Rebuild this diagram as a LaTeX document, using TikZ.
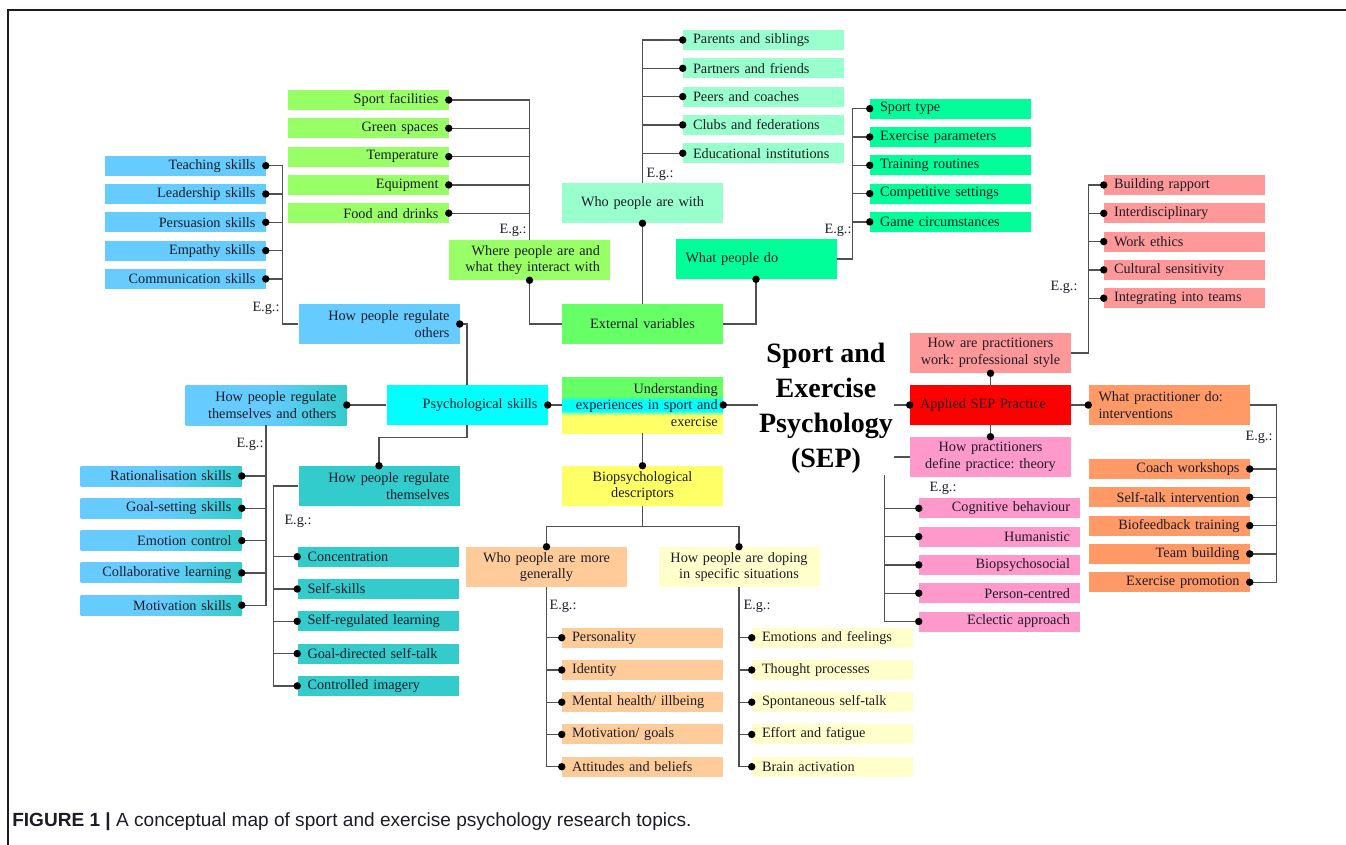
\documentclass[tikz,border=0pt]{standalone}
\usepackage{fontspec}
\setmainfont{Liberation Serif}
\newfontfamily\capfont{Liberation Sans}
\usetikzlibrary{arrows.meta}
\definecolor{ink}{RGB}{28,28,40}
\definecolor{wire}{RGB}{80,80,80}
\definecolor{lgreen}{HTML}{99FF66}
\definecolor{mgreen}{HTML}{66FF66}
\definecolor{mint}{HTML}{99FFCC}
\definecolor{spring}{HTML}{00FF99}
\definecolor{rose}{HTML}{FF9999}
\definecolor{sepred}{HTML}{FF0000}
\definecolor{salmon}{HTML}{FF9966}
\definecolor{orchid}{HTML}{FF99CC}
\definecolor{sky}{HTML}{66CCFF}
\definecolor{aqua}{HTML}{00FFFF}
\definecolor{tealc}{HTML}{33CCCC}
\definecolor{lemon}{HTML}{FFFF66}
\definecolor{peach}{HTML}{FFCC99}
\definecolor{cream}{HTML}{FFFFCC}
\pgfdeclareverticalshading{undshade}{100bp}{color(0bp)=(lemon); color(41bp)=(lemon);
  color(45bp)=(aqua); color(54bp)=(aqua); color(58bp)=(mgreen); color(100bp)=(mgreen)}
\tikzset{
    every node/.style={text=ink, font=\frenchspacing\fontsize{10.7}{12.5}\selectfont},
    item/.style={minimum height=15pt, text width=105.75pt, inner xsep=7.5pt,
        inner ysep=0pt},
    itemr/.style={item, align=right},
    iteml/.style={item, align=left},
    headr/.style={itemr, minimum height=30pt},
    headl/.style={iteml, minimum height=30pt},
    headc/.style={item, align=center, minimum height=30pt, text width=112.75pt,
        inner xsep=4pt},
    blend/.style={left color=sky, right color=tealc, middle color=sky},
    eg/.style={inner sep=0pt},
    link/.style={draw=wire, line width=1pt},
    dotend/.style={link, -{Circle[length=5.5pt, color=black]}, shorten >=-2.75pt},
    dotstart/.style={link, {Circle[length=5.5pt, color=black]}-, shorten <=-2.75pt},
    dotboth/.style={link, {Circle[length=5.5pt, color=black]}-{Circle[length=5.5pt, color=black]},
        shorten <=-2.75pt, shorten >=-2.75pt}
}

\begin{document}
\begin{tikzpicture}[x=0.75pt, y=-0.75pt]
	\useasboundingbox (0,0) rectangle (1346,845);
	\draw[ink, line width=1.1pt] (8,845) -- (8,10) -- (1346,10);
	% external variables
	\node[itemr, fill=lgreen] (facil) at (368,100) {Sport facilities};
	\node[itemr, fill=lgreen] (green) at (368,128.3) {Green spaces};
	\node[itemr, fill=lgreen] (temp) at (368,156.6) {Temperature};
	\node[itemr, fill=lgreen] (equip) at (368,184.9) {Equipment};
	\node[itemr, fill=lgreen] (food) at (368,213.2) {Food and drinks};
	\node[headr, fill=lgreen] (where) at (529.5,260) {Where people are and\\what they interact with};
	\node[iteml, fill=mint] (parents) at (763.5,40) {Parents and siblings};
	\node[iteml, fill=mint] (partners) at (763.5,68.3) {Partners and friends};
	\node[iteml, fill=mint] (peers) at (763.5,96.6) {Peers and coaches};
	\node[iteml, fill=mint] (clubs) at (763.5,124.9) {Clubs and federations};
	\node[iteml, fill=mint] (edu) at (763.5,153.2) {Educational institutions};
	\node[headc, fill=mint] (with) at (642.5,203) {Who people are with};
	\node[headc, fill=mgreen] (ext) at (642.5,324) {External variables};
	\node[headl, fill=spring] (do) at (756,259) {What people do};
	\node[iteml, fill=spring] (stype) at (950.5,108.7) {Sport type};
	\node[iteml, fill=spring] (expar) at (950.5,137) {Exercise parameters};
	\node[iteml, fill=spring] (train) at (950.5,165.3) {Training routines};
	\node[iteml, fill=spring] (comp) at (950.5,193.6) {Competitive settings};
	\node[iteml, fill=spring] (game) at (950.5,221.9) {Game circumstances};
	% applied practice
	\node[iteml, fill=rose] (rapport) at (1184.5,185) {Building rapport};
	\node[iteml, fill=rose] (interd) at (1184.5,213.3) {Interdisciplinary};
	\node[iteml, fill=rose] (ethics) at (1184.5,241.6) {Work ethics};
	\node[iteml, fill=rose] (cult) at (1184.5,269.9) {Cultural sensitivity};
	\node[iteml, fill=rose] (integ) at (1184.5,298.2) {Integrating into teams};
	\node[headc, fill=rose] (style) at (990.5,353) {How are practitioners\\work: professional style};
	\node[headl, fill=sepred] (sep) at (990.5,405) {Applied SEP Practice};
	\node[headl, fill=salmon] (interv) at (1169,405) {What practitioner do:\\interventions};
	\node[itemr, fill=salmon] (coach) at (1169,469) {Coach workshops};
	\node[itemr, fill=salmon] (selftalk) at (1169,497.3) {Self-talk intervention};
	\node[itemr, fill=salmon] (biofb) at (1169,525.6) {Biofeedback training};
	\node[itemr, fill=salmon] (team) at (1169,553.9) {Team building};
	\node[itemr, fill=salmon] (exprom) at (1169,582.2) {Exercise promotion};
	\node[headc, fill=orchid] (theory) at (990.5,457) {How practitioners\\define practice: theory};
	\node[itemr, fill=orchid] (cogb) at (999.5,508.3) {Cognitive behaviour};
	\node[itemr, fill=orchid] (human) at (999.5,536.6) {Humanistic};
	\node[itemr, fill=orchid] (biops) at (999.5,564.9) {Biopsychosocial};
	\node[itemr, fill=orchid] (person) at (999.5,593.2) {Person-centred};
	\node[itemr, fill=orchid] (eclec) at (999.5,621.5) {Eclectic approach};
	% centre and biopsychological descriptors
	\node[itemr, minimum height=42pt, text width=112.75pt, inner xsep=4pt, shade, shading=undshade]
		(und) at (642.5,405) {Understanding\\experiences in sport and\\exercise};
	\node[headc, fill=lemon] (bio) at (642.5,486) {Biopsychological\\descriptors};
	\node[headc, fill=peach] (gen) at (546.5,567) {Who people are more\\generally};
	\node[headc, fill=cream] (dop) at (739,567) {How people are doping\\in specific situations};
	\node[iteml, fill=peach] (perso) at (642.5,637.7) {Personality};
	\node[iteml, fill=peach] (ident) at (642.5,670) {Identity};
	\node[iteml, fill=peach] (mental) at (642.5,702.2) {Mental health/ illbeing};
	\node[iteml, fill=peach] (motgoal) at (642.5,734.4) {Motivation/ goals};
	\node[iteml, fill=peach] (att) at (642.5,766.7) {Attitudes and beliefs};
	\node[iteml, fill=cream] (emof) at (832.5,637.7) {Emotions and feelings};
	\node[iteml, fill=cream] (thought) at (832.5,670) {Thought processes};
	\node[iteml, fill=cream] (spont) at (832.5,702.2) {Spontaneous self-talk};
	\node[iteml, fill=cream] (effort) at (832.5,734.4) {Effort and fatigue};
	\node[iteml, fill=cream] (brain) at (832.5,766.7) {Brain activation};
	% psychological skills
	\node[headr, fill=aqua] (psy) at (467,405) {Psychological skills};
	\node[headr, fill=sky] (others) at (379,324) {How people regulate\\others};
	\node[itemr, fill=sky] (teach) at (185,165.7) {Teaching skills};
	\node[itemr, fill=sky] (lead) at (185,194) {Leadership skills};
	\node[itemr, fill=sky] (pers) at (185,222.3) {Persuasion skills};
	\node[itemr, fill=sky] (emp) at (185,250.6) {Empathy skills};
	\node[itemr, fill=sky] (comm) at (185,278.9) {Communication skills};
	\node[headr, blend] (both) at (266,405) {How people regulate\\themselves and others};
	\node[itemr, blend] (ration) at (161,476) {Rationalisation skills};
	\node[itemr, blend] (goal) at (161,508.3) {Goal-setting skills};
	\node[itemr, blend] (emo) at (161,540.6) {Emotion control};
	\node[itemr, blend] (collab) at (161,572.9) {Collaborative learning};
	\node[itemr, blend] (motiv) at (161,605.2) {Motivation skills};
	\node[headr, fill=tealc] (self) at (379,486) {How people regulate\\themselves};
	\node[iteml, fill=tealc] (conc) at (378,556.7) {Concentration};
	\node[iteml, fill=tealc] (sskills) at (378,589) {Self-skills};
	\node[iteml, fill=tealc] (srl) at (378,621.3) {Self-regulated learning};
	\node[iteml, fill=tealc] (gdst) at (378,653.6) {Goal-directed self-talk};
	\node[iteml, fill=tealc] (imag) at (378,685.9) {Controlled imagery};
	% e.g. labels
	\node[eg] (egwhere) at (513,230) {E.g.:};
	\node[eg] (egwith) at (660,174) {E.g.:};
	\node[eg] (egdo) at (838,230) {E.g.:};
	\node[eg] (egstyle) at (1064,287) {E.g.:};
	\node[eg] (eginterv) at (1259,437) {E.g.:};
	\node[eg] (egtheory) at (943,488) {E.g.:};
	\node[eg] (eggen) at (563,606) {E.g.:};
	\node[eg] (egdop) at (757,606) {E.g.:};
	\node[eg] (egothers) at (266,308) {E.g.:};
	\node[eg] (egboth) at (250,444) {E.g.:};
	\node[eg] (egself) at (298,521) {E.g.:};
	% connectors
	\draw[dotstart] (facil.east) -| (where.north); \draw[dotstart] (green.east) -| (where.north);
	\draw[dotstart] (temp.east) -| (where.north); \draw[dotstart] (equip.east) -| (where.north);
	\draw[dotstart] (food.east) -| (where.north);
	\draw[dotstart] (where.south) |- (ext.west);
	\draw[dotend] (ext.north) -- (with.south);
	\draw[dotend] (with.north) |- (parents.west); \draw[dotend] (with.north) |- (partners.west);
	\draw[dotend] (with.north) |- (peers.west); \draw[dotend] (with.north) |- (clubs.west);
	\draw[dotend] (with.north) |- (edu.west);
	\draw[dotstart] (do.south) |- (ext.east);
	\draw[dotend] (do.east) -- ++(16,0) |- (stype.west); \draw[dotend] (do.east) -- ++(16,0) |- (expar.west);
	\draw[dotend] (do.east) -- ++(16,0) |- (train.west); \draw[dotend] (do.east) -- ++(16,0) |- (comp.west);
	\draw[dotend] (do.east) -- ++(16,0) |- (game.west);
	\draw[dotend] (style.east) -- ++(17,0) |- (rapport.west); \draw[dotend] (style.east) -- ++(17,0) |- (interd.west);
	\draw[dotend] (style.east) -- ++(17,0) |- (ethics.west); \draw[dotend] (style.east) -- ++(17,0) |- (cult.west);
	\draw[dotend] (style.east) -- ++(17,0) |- (integ.west);
	\draw[dotstart] (style.south) -- (sep.north);
	\draw[dotboth] (und.east) -- (sep.west);
	\draw[dotend] (sep.east) -- (interv.west);
	\draw[dotend] (interv.east) -- ++(27,0) |- (coach.east); \draw[dotend] (interv.east) -- ++(27,0) |- (selftalk.east);
	\draw[dotend] (interv.east) -- ++(27,0) |- (biofb.east); \draw[dotend] (interv.east) -- ++(27,0) |- (team.east);
	\draw[dotend] (interv.east) -- ++(27,0) |- (exprom.east);
	\draw[dotend] (sep.south) -- (theory.north);
	\draw[dotend] (theory.west) -- ++(-25,0) |- (cogb.west); \draw[dotend] (theory.west) -- ++(-25,0) |- (human.west);
	\draw[dotend] (theory.west) -- ++(-25,0) |- (biops.west); \draw[dotend] (theory.west) -- ++(-25,0) |- (person.west);
	\draw[dotend] (theory.west) -- ++(-25,0) |- (eclec.west);
	\draw[dotend] (und.south) -- (bio.north);
	\draw[dotend] (bio.south) -- ++(0,20) -| (gen.north); \draw[dotend] (bio.south) -- ++(0,20) -| (dop.north);
	\draw[dotend] (gen.south) |- (perso.west); \draw[dotend] (gen.south) |- (ident.west);
	\draw[dotend] (gen.south) |- (mental.west); \draw[dotend] (gen.south) |- (motgoal.west);
	\draw[dotend] (gen.south) |- (att.west);
	\draw[dotend] (dop.south) |- (emof.west); \draw[dotend] (dop.south) |- (thought.west);
	\draw[dotend] (dop.south) |- (spont.west); \draw[dotend] (dop.south) |- (effort.west);
	\draw[dotend] (dop.south) |- (brain.west);
	\draw[dotstart] (psy.east) -- (und.west);
	\draw[dotend] (psy.north) |- (others.east);
	\draw[dotend] (psy.south) -- ++(0,12) -| (self.north);
	\draw[dotend] (psy.west) -- (both.east);
	\draw[dotend] (others.west) -- ++(-16,0) |- (teach.east); \draw[dotend] (others.west) -- ++(-16,0) |- (lead.east);
	\draw[dotend] (others.west) -- ++(-16,0) |- (pers.east); \draw[dotend] (others.west) -- ++(-16,0) |- (emp.east);
	\draw[dotend] (others.west) -- ++(-16,0) |- (comm.east);
	\draw[dotend] (both.south) |- (ration.east); \draw[dotend] (both.south) |- (goal.east);
	\draw[dotend] (both.south) |- (emo.east); \draw[dotend] (both.south) |- (collab.east);
	\draw[dotend] (both.south) |- (motiv.east);
	\draw[dotend] (self.west) -- ++(-25,0) |- (conc.west); \draw[dotend] (self.west) -- ++(-25,0) |- (sskills.west);
	\draw[dotend] (self.west) -- ++(-25,0) |- (srl.west); \draw[dotend] (self.west) -- ++(-25,0) |- (gdst.west);
	\draw[dotend] (self.west) -- ++(-25,0) |- (imag.west);
	% title and caption
	\node[font=\bfseries\fontsize{21}{26.25}\selectfont, align=center, fill=white, inner sep=1pt,
		text=black] (title) at (826,408) {Sport and\\Exercise\\Psychology\\(SEP)};
	\node[anchor=west, inner sep=0pt, font=\capfont\fontsize{14.3}{17}\selectfont] (caption) at (12,822)
		{\textbf{FIGURE 1 |} A conceptual map of sport and exercise psychology research topics.};
\end{tikzpicture}
\end{document}
